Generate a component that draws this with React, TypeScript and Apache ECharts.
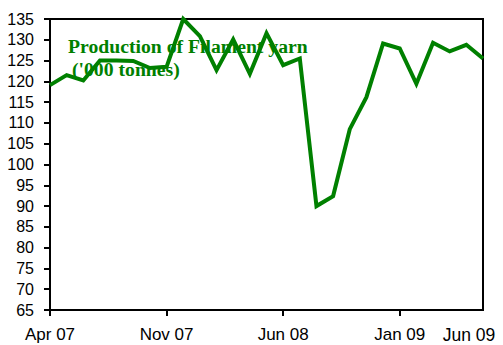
import React, { useEffect, useRef } from "react";
import * as echarts from "echarts";

const months: string[] = [
  "Apr 07", "May 07", "Jun 07", "Jul 07", "Aug 07", "Sep 07", "Oct 07", "Nov 07", "Dec 07",
  "Jan 08", "Feb 08", "Mar 08", "Apr 08", "May 08", "Jun 08", "Jul 08", "Aug 08", "Sep 08",
  "Oct 08", "Nov 08", "Dec 08", "Jan 09", "Feb 09", "Mar 09", "Apr 09", "May 09", "Jun 09",
];

const production: number[] = [
  119.1, 121.5, 120.2, 125.0, 125.0, 124.9, 123.2, 123.5, 135.0,
  130.9, 122.7, 130.1, 121.8, 131.6, 123.9, 125.5, 90.0, 92.4,
  108.5, 116.2, 129.1, 127.9, 119.4, 129.3, 127.2, 128.8, 125.5,
];

const shownTickIndices: number[] = [0, 7, 14, 21];
const titleLine1 = "Production of Filament yarn";
const titleLine2 = "('000 tonnes)";
const lastLabel = "Jun 09";

export default function App() {
  const ref = useRef<HTMLDivElement>(null);
  useEffect(() => {
    if (!ref.current) return;
    const chart = echarts.init(ref.current, null, { renderer: "svg" });
    chart.setOption({
      animation: false,
      backgroundColor: "#fff",
      grid: {
        left: 50,
        right: 20,
        top: 19,
        bottom: 35,
        show: true,
        borderColor: "#000",
        borderWidth: 2,
        backgroundColor: "transparent",
      },
      xAxis: {
        type: "category",
        data: months,
        boundaryGap: false,
        axisLine: { lineStyle: { color: "#000", width: 2 } },
        axisTick: {
          show: true,
          length: 6,
          interval: (i: number) => shownTickIndices.includes(i),
          lineStyle: { color: "#000", width: 2 },
        },
        axisLabel: {
          interval: (i: number) => shownTickIndices.includes(i),
          color: "#000",
          fontSize: 17,
          fontFamily: "Liberation Sans",
          margin: 16,
        },
        splitLine: { show: false },
      },
      yAxis: {
        type: "value",
        min: 65,
        max: 135,
        interval: 5,
        axisLine: { show: true, lineStyle: { color: "#000", width: 2 } },
        axisTick: { show: true, length: 6, lineStyle: { color: "#000", width: 2 } },
        axisLabel: {
          color: "#000",
          fontSize: 16,
          fontFamily: "Liberation Sans",
          margin: 16,
        },
        splitLine: { show: false },
      },
      graphic: [
        {
          type: "text",
          z: 0,
          x: 68,
          y: 46,
          style: {
            text: titleLine1,
            fill: "#008000",
            font: 'bold 19.7px "Liberation Serif"',
            verticalAlign: "middle",
            align: "left",
          },
        },
        {
          type: "text",
          z: 0,
          x: 72,
          y: 69,
          style: {
            text: titleLine2,
            fill: "#008000",
            font: 'bold 19.7px "Liberation Serif"',
            verticalAlign: "middle",
            align: "left",
          },
        },
        {
          type: "text",
          z: 0,
          x: 469,
          y: 335,
          style: {
            text: lastLabel,
            fill: "#000",
            font: '17.5px "Liberation Sans"',
            verticalAlign: "middle",
            align: "center",
          },
        },
      ],
      series: [
        {
          type: "line",
          data: production,
          symbol: "none",
          clip: false,
          z: 5,
          lineStyle: { color: "#008000", width: 4, join: "miter" },
        },
      ],
    });
    return () => chart.dispose();
  }, []);
  return (
    <div
      ref={ref}
      style={{ position: "absolute", left: 0, top: 0, width: 503, height: 345 }}
    />
  );
}
